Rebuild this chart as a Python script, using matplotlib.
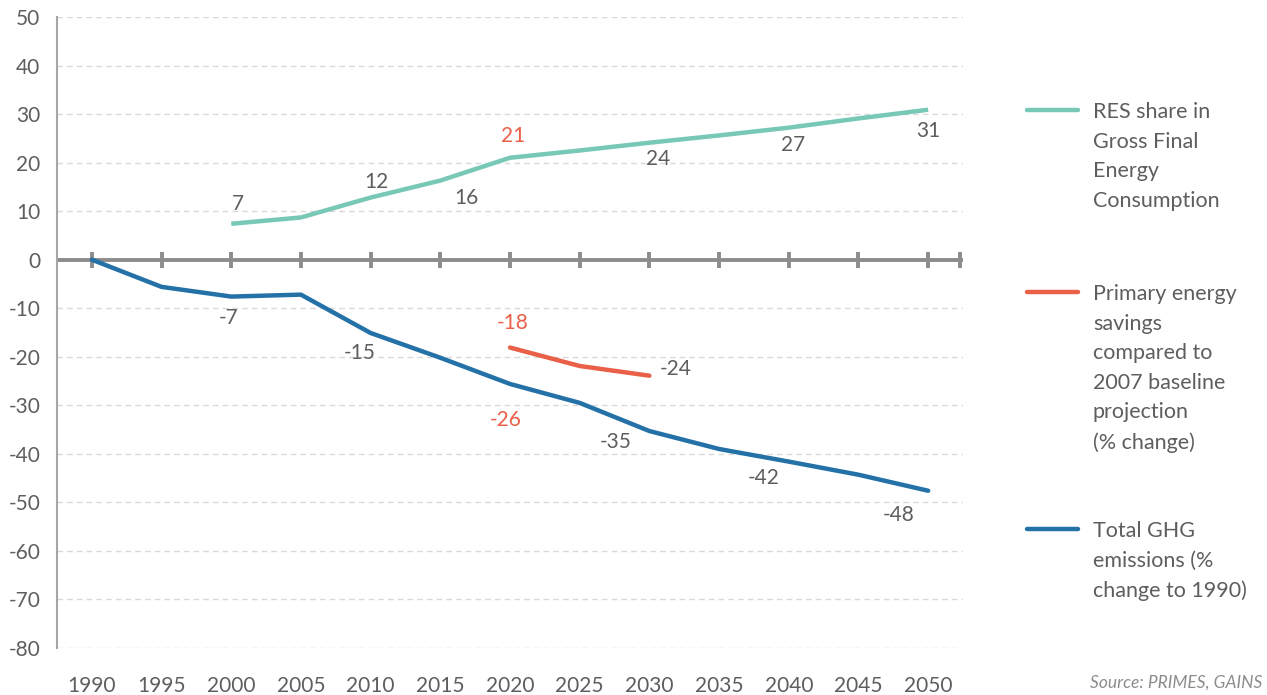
import matplotlib
matplotlib.use("Agg")
import matplotlib.pyplot as plt
from matplotlib.lines import Line2D

plt.rcParams['font.family'] = ['Lato', 'DejaVu Sans']

years = [1990, 1995, 2000, 2005, 2010, 2015, 2020, 2025, 2030, 2035, 2040, 2045, 2050]
ghg_years = years
ghg = [0, -5.6, -7.6, -7.2, -15.1, -20.2, -25.6, -29.5, -35.3, -39.0, -41.6, -44.3, -47.6]
res_years = [2000, 2005, 2010, 2015, 2020, 2025, 2030, 2035, 2040, 2045, 2050]
res = [7.4, 8.7, 12.8, 16.3, 21.0, 22.5, 24.1, 25.6, 27.2, 29.1, 30.9]
pes_years = [2020, 2025, 2030]
pes = [-18.1, -21.9, -23.9]

# data labels
label_x = [2000, 2010, 2015, 2020, 2030, 2040, 2050,
           2000, 2010, 2020, 2030, 2020, 2025, 2040, 2050]
label_y = [11.5, 16, 12.8, 25.5, 20.7, 23.6, 26.5,
           -12, -19.3, -13, -22.5, -33, -37.5, -45, -52.5]
label_dx = [0.5, 0.4, 1.9, 0.2, 0.6, 0.3, 0,
            -0.2, -0.8, 0.2, 1.9, -0.3, 2.6, -1.8, -2.1]
label_txt = ['7', '12', '16', '21', '24', '27', '31',
             '-7', '-15', '-18', '-24', '-26', '-35', '-42', '-48']
label_col = ['g', 'g', 'g', 'o', 'g', 'g', 'g',
             'g', 'g', 'o', 'g', 'o', 'g', 'g', 'g']

yticks = list(range(-80, 51, 10))

TEAL = '#78C8B8'
BLUE = '#2471A8'
ORANGE = '#EA5F48'
GRAY_TXT = '#5E5E5E'
AXGRAY = '#8C8C8C'

fig = plt.figure(figsize=(12.67, 6.95), dpi=100)
ax = fig.add_axes([57/1267, 1-648/695, (963-57)/1267, (648-17)/695])

ax.set_xlim(1987.5, 2052.5)
ax.set_ylim(-80, 50)

for v in yticks:
    if v != 0:
        ax.axhline(v, color='#D9D9D9', lw=1, ls=(0, (4, 3)), zorder=0)

ax.axhline(0, color=AXGRAY, lw=2.8, zorder=1)
ax.plot(years + [2052.3], [0]*(len(years)+1), ls='none', marker='|', ms=11, mew=2.8,
        color=AXGRAY, zorder=1)

ax.plot(res_years, res, color=TEAL, lw=3.2, zorder=3, solid_capstyle='butt')
ax.plot(pes_years, pes, color=ORANGE, lw=3.2, zorder=3, solid_capstyle='round')
ax.plot(ghg_years, ghg, color=BLUE, lw=3.2, zorder=3, solid_capstyle='round')

for x, y, dx, t, c in zip(label_x, label_y, label_dx, label_txt, label_col):
    ax.text(x + dx, y, t, ha='center', va='center', fontsize=15,
            color=ORANGE if c == 'o' else GRAY_TXT)

for s in ['top', 'right', 'bottom']:
    ax.spines[s].set_visible(False)
ax.spines['left'].set_color('#A6A6A6')
ax.spines['left'].set_linewidth(1.5)

ax.set_yticks(yticks)
ax.set_yticklabels([str(v) for v in yticks])
ax.set_xticks(years)
ax.set_xticklabels([str(y) for y in years])
ax.tick_params(axis='y', length=0, pad=12, labelsize=15, labelcolor=GRAY_TXT)
ax.tick_params(axis='x', length=0, pad=20, labelsize=15, labelcolor=GRAY_TXT)

# legend
leg = [(110, TEAL, "RES share in\nGross Final\nEnergy\nConsumption"),
       (292, ORANGE, "Primary energy\nsavings\ncompared to\n2007 baseline\nprojection\n(% change)"),
       (529, BLUE, "Total GHG\nemissions (%\nchange to 1990)")]
for ypx, col, txt in leg:
    yf = 1 - ypx/695
    fig.add_artist(Line2D([1027/1267, 1078/1267], [yf, yf], color=col, lw=3.2,
                          solid_capstyle='round', transform=fig.transFigure))
    fig.text(1093/1267, 1 - (ypx - 8)/695, txt, ha='left', va='top', fontsize=15.5,
             color=GRAY_TXT, linespacing=1.6)

fig.text(1262/1267, 1 - 683/695, "Source: PRIMES, GAINS", ha='right', va='center',
         fontsize=12.5, style='italic', color='#8C8C8C')

fig.savefig('out.png', dpi=100)
